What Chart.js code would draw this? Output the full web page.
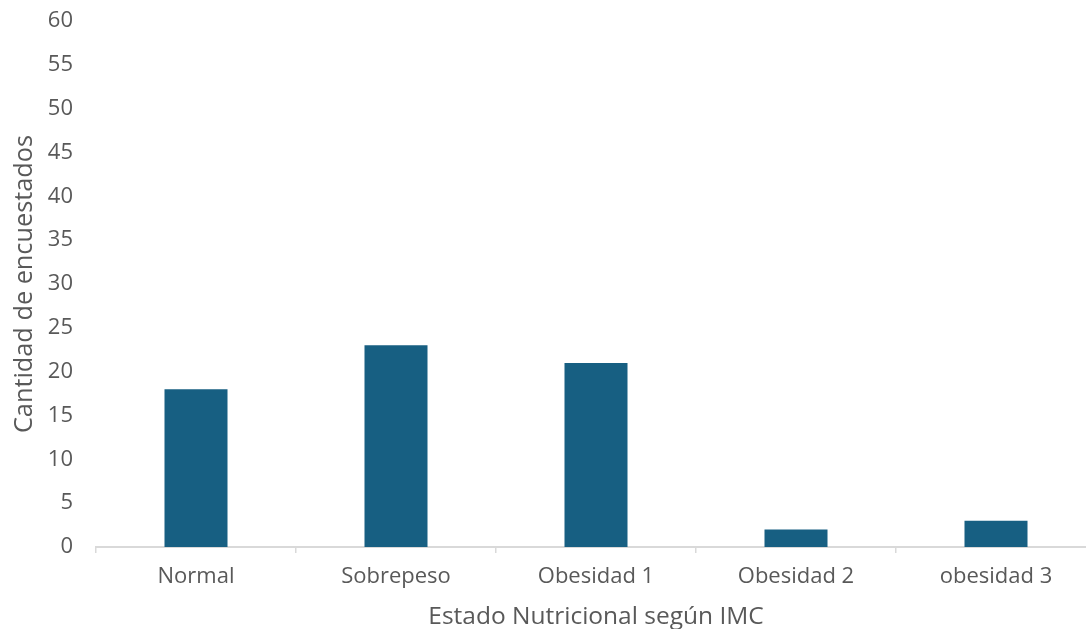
<!DOCTYPE html>
<html>
<head>
<meta charset="utf-8">
<script src="https://cdn.jsdelivr.net/npm/chart.js@4/dist/chart.umd.min.js"></script>
<style>
  html, body { margin: 0; padding: 0; background: #ffffff; overflow: hidden; width: 1086px; height: 629px; }
  canvas { display: block; }
</style>
</head>
<body>
<canvas id="c" width="1100" height="629"></canvas>
<script>
const categories = ["Normal", "Sobrepeso", "Obesidad 1", "Obesidad 2", "obesidad 3"];
const values = [18, 23, 21, 2, 3];
const yTitle = "Cantidad de encuestados";
const xTitle = "Estado Nutricional según IMC";
const yMin = 0, yMax = 60, yStep = 5;

const FONT = "'Open Sans', 'Liberation Sans', Arial, sans-serif";
const TXT = "#595959";

new Chart(document.getElementById("c"), {
  type: "bar",
  data: {
    labels: categories,
    datasets: [{
      data: values,
      backgroundColor: "#175F82",
      borderWidth: 0,
      categoryPercentage: 1.0,
      barPercentage: 0.315
    }]
  },
  options: {
    responsive: false,
    animation: false,
    layout: { padding: { left: 0, right: 4, top: 21, bottom: 0 } },
    plugins: { legend: { display: false }, tooltip: { enabled: false } },
    scales: {
      x: {
        offset: true,
        grid: {
          offset: true,
          drawOnChartArea: false,
          drawTicks: true,
          tickLength: 6,
          color: "#d9d9d9",
          lineWidth: 1.5
        },
        border: { display: true, color: "#d9d9d9", width: 2 },
        ticks: { color: TXT, font: { family: FONT, size: 22 }, padding: 11, maxRotation: 0 },
        title: {
          display: true, text: xTitle, color: TXT,
          font: { family: FONT, size: 24.5, lineHeight: 1.0 },
          padding: { top: 0, bottom: 0 }
        },
        afterFit: (s) => { s.height = 82; s.paddingLeft = 0; s.paddingRight = 0; }
      },
      y: {
        min: yMin, max: yMax,
        grid: { display: false, drawTicks: false },
        border: { display: false },
        ticks: { stepSize: yStep, color: TXT, font: { family: FONT, size: 22 }, padding: 23 },
        title: {
          display: true, text: yTitle, color: TXT,
          font: { family: FONT, size: 25.3 },
          padding: { top: 10, bottom: 0 }
        },
        afterFit: (s) => { s.width = 96; s.paddingTop = 0; s.paddingBottom = 0; }
      }
    }
  }
});
</script>
</body>
</html>
